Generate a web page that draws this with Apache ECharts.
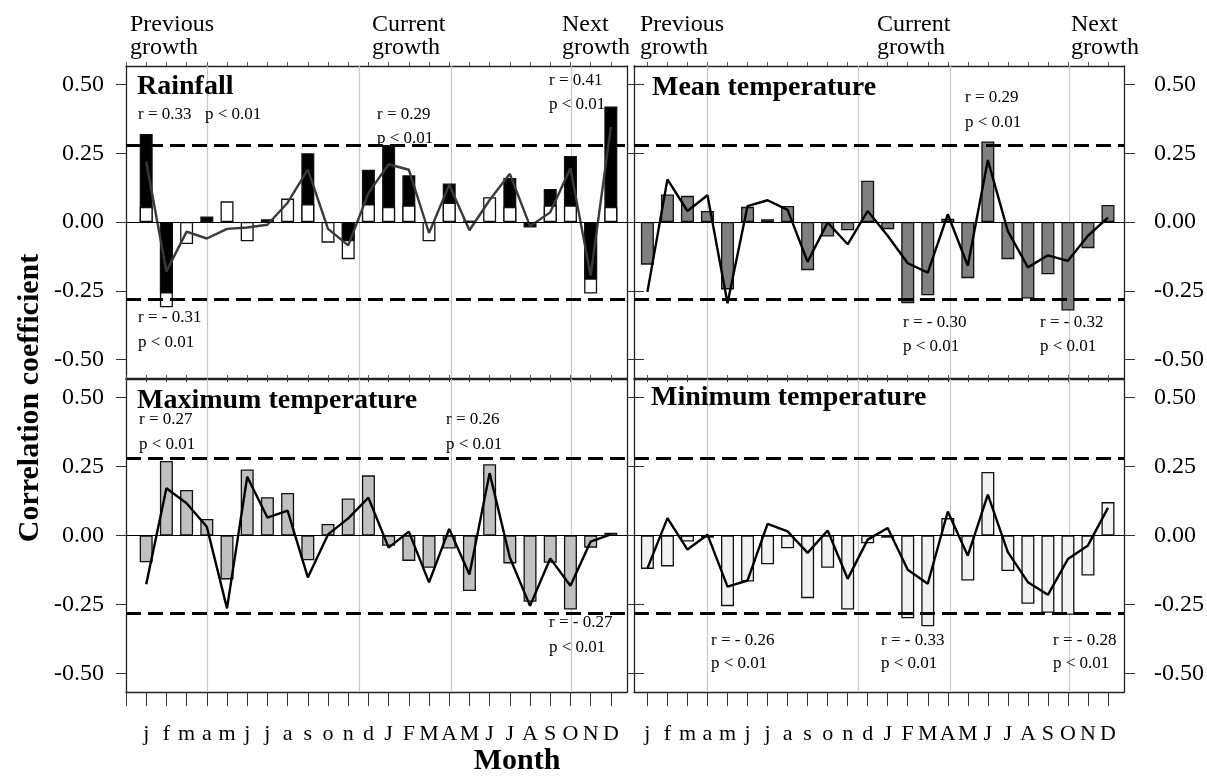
<!DOCTYPE html>
<html lang="en">
<head>
    <meta charset="UTF-8">
    <title>Correlation coefficient</title>
    <script src="https://cdn.jsdelivr.net/npm/echarts@6/dist/echarts.min.js"></script>
    <style>
        html, body { margin: 0; padding: 0; background: #fff; }
        #main { width: 1207px; height: 782px; }
    </style>
</head>
<body>
    <div id="main"></div>
    <script>
        // month labels, previous year in lower case, current year in upper case
        var months = ['j', 'f', 'm', 'a', 'm', 'j', 'j', 'a', 's', 'o', 'n', 'd',
                      'J', 'F', 'M', 'A', 'M', 'J', 'J', 'A', 'S', 'O', 'N', 'D'];
        var yTicks = [-0.5, -0.25, 0, 0.25, 0.5];
        var sigLevel = 0.28;
        var seasonLines = [4, 11.55, 16.1, 22.05];

        // Rainfall: black + white bars, grey line
        var rainBlack = [0.32, -0.26, 0, 0.02, 0, 0, 0.01, 0, 0.25, 0, -0.07, 0.19,
                         0.28, 0.17, 0, 0.14, 0.005, 0, 0.16, -0.02, 0.12, 0.24, -0.21, 0.42];
        var rainWhite = [0.055, -0.31, -0.08, 0, 0.075, -0.07, 0, 0.085, 0.065, -0.075, -0.135, 0.065,
                         0.055, 0.06, -0.07, 0.07, 0, 0.09, 0.055, 0, 0.06, 0.06, -0.26, 0.055];
        var rainLine = [0.22, -0.18, -0.035, -0.06, -0.025, -0.02, -0.01, 0.07, 0.19, -0.025, -0.085, 0.105,
                        0.21, 0.19, -0.04, 0.135, -0.03, 0.08, 0.175, -0.015, 0.035, 0.195, -0.195, 0.345];

        var meanBar = [-0.155, 0.10, 0.095, 0.04, -0.245, 0.055, 0.01, 0.058, -0.175, -0.053, -0.03, 0.15,
                       -0.026, -0.295, -0.266, 0.012, -0.204, 0.293, -0.135, -0.278, -0.19, -0.322, -0.095, 0.062];
        var meanLine = [-0.254, 0.155, 0.04, 0.097, -0.295, 0.058, 0.079, 0.044, -0.145, -0.002, -0.081, 0.04,
                        -0.05, -0.15, -0.184, 0.028, -0.159, 0.225, -0.033, -0.165, -0.121, -0.141, -0.05, 0.016];

        var maxBar = [-0.097, 0.27, 0.165, 0.06, -0.159, 0.239, 0.139, 0.154, -0.09, 0.042, 0.134, 0.218,
                      -0.037, -0.092, -0.117, -0.047, -0.201, 0.258, -0.101, -0.24, -0.099, -0.268, -0.044, 0.01];
        var maxLine = [-0.177, 0.171, 0.117, 0.032, -0.264, 0.213, 0.065, 0.09, -0.152, 0.004, 0.062, 0.137,
                       -0.044, 0.014, -0.17, 0.024, -0.141, 0.226, -0.08, -0.255, -0.083, -0.182, -0.022, 0.004];

        var minBar = [-0.121, -0.112, -0.022, -0.008, -0.256, -0.167, -0.104, -0.046, -0.227, -0.117, -0.268, -0.028,
                      -0.008, -0.30, -0.329, 0.063, -0.163, 0.23, -0.129, -0.247, -0.28, -0.287, -0.145, 0.121];
        var minLine = [-0.119, 0.063, -0.051, 0.003, -0.185, -0.163, 0.042, 0.015, -0.063, 0.018, -0.157, -0.015,
                       0.027, -0.124, -0.175, 0.087, -0.073, 0.148, -0.06, -0.169, -0.215, -0.085, -0.036, 0.1];

        var FONT = '"Liberation Serif", "Times New Roman", serif';

        function pts(arr, keep) {
            var out = [];
            arr.forEach(function (v, k) {
                if (v !== 0 && (!keep || keep(v))) out.push([k + 1, v]);
            });
            return out;
        }

        var xPos = months.map(function (m, k) { return k + 1; });

        // layout of the four panels
        var panels = [
            {left: 126, width: 501, top: 66, height: 312, xmin: 0, side: 'left', bottomLabels: false},
            {left: 634, width: 494, top: 66, height: 312, xmin: 0.33, side: 'right', bottomLabels: false},
            {left: 126, width: 501, top: 379, height: 313, xmin: 0, side: 'left', bottomLabels: true},
            {left: 634, width: 494, top: 379, height: 313, xmin: 0.33, side: 'right', bottomLabels: true}
        ];

        var grids = [], xAxes = [], yAxes = [], series = [];
        var axisCol = '#222';

        panels.forEach(function (p, i) {
            grids.push({left: p.left, top: p.top, width: p.width, height: p.height});
            var xt = p.xmin === 0 ? [0].concat(xPos) : xPos;
            xAxes.push({
                type: 'value', gridIndex: i, position: 'bottom', min: p.xmin, max: 24.8,
                axisLine: {show: true, onZero: false, lineStyle: {color: axisCol, width: 1.3}},
                axisTick: {show: true, customValues: xt, length: p.bottomLabels ? 14 : 4,
                           lineStyle: {color: '#333', width: 1}},
                axisLabel: {show: p.bottomLabels, customValues: xPos, margin: 31,
                            fontFamily: FONT, fontSize: 22, color: '#000',
                            formatter: function (v) { return months[Math.round(v) - 1] || ''; }},
                splitLine: {show: false}
            });
            xAxes.push({
                type: 'value', gridIndex: i, position: 'top', min: p.xmin, max: 24.8,
                axisLine: {show: true, onZero: false, lineStyle: {color: axisCol, width: 1.3}},
                axisTick: {show: true, customValues: xt, length: 4, lineStyle: {color: '#555'}},
                axisLabel: {show: false},
                splitLine: {show: false}
            });
            yAxes.push({
                type: 'value', gridIndex: i, position: 'left', min: -0.567, max: 0.567,
                axisLine: {show: true, onZero: false, lineStyle: {color: axisCol, width: 1.3}},
                axisTick: {show: true, customValues: yTicks, length: 10, inside: p.side === 'right',
                           lineStyle: {color: '#333'}},
                axisLabel: {show: p.side === 'left', customValues: yTicks, margin: 22,
                            fontFamily: FONT, fontSize: 24, color: '#000',
                            formatter: function (v) { return v.toFixed(2); }},
                splitLine: {show: false}
            });
            yAxes.push({
                type: 'value', gridIndex: i, position: 'right', min: -0.567, max: 0.567,
                axisLine: {show: true, onZero: false, lineStyle: {color: axisCol, width: 1.3}},
                axisTick: {show: true, customValues: yTicks, length: p.side === 'right' ? 11 : 8,
                           lineStyle: {color: '#333'}},
                axisLabel: {show: p.side === 'right', customValues: yTicks, margin: 30,
                            fontFamily: FONT, fontSize: 24, color: '#000',
                            formatter: function (v) { return v.toFixed(2); }},
                splitLine: {show: false}
            });
            // light grey season separators, behind the bars
            series.push({
                type: 'line', xAxisIndex: 2 * i, yAxisIndex: 2 * i, data: [], silent: true,
                markLine: {
                    z: 1, silent: true, symbol: 'none', label: {show: false},
                    lineStyle: {color: '#c8c8c8', type: 'solid', width: 1.2},
                    data: seasonLines.map(function (x) { return {xAxis: x}; })
                }
            });
        });

        function bar(i, data, fill, z) {
            return {
                type: 'bar', xAxisIndex: 2 * i, yAxisIndex: 2 * i, data: data,
                barWidth: 13, barGap: '-100%', z: z, silent: true,
                itemStyle: {color: fill, borderColor: '#111', borderWidth: 1.3}
            };
        }

        function line(i, data, col) {
            return {
                type: 'line', xAxisIndex: 2 * i, yAxisIndex: 2 * i, data: pts(data),
                showSymbol: false, symbol: 'none', z: 6, silent: true,
                lineStyle: {color: col, width: 2.4},
                markLine: {
                    z: 7, silent: true, symbol: 'none', label: {show: false},
                    data: [
                        {yAxis: 0, lineStyle: {color: '#000', type: 'solid', width: 1.2}},
                        {yAxis: sigLevel, lineStyle: {color: '#000', type: [15, 7], width: 2.8}},
                        {yAxis: -sigLevel, lineStyle: {color: '#000', type: [15, 7], width: 2.8}}
                    ]
                }
            };
        }

        // Rainfall
        series.push(bar(0, pts(rainWhite, function (v) { return v < 0; }), '#fff', 2));
        series.push(bar(0, pts(rainBlack), '#000', 3));
        series.push(bar(0, pts(rainWhite, function (v) { return v > 0; }), '#fff', 4));
        series.push(line(0, rainLine, '#3a3a3a'));
        // Mean temperature
        series.push(bar(1, pts(meanBar), '#808080', 3));
        series.push(line(1, meanLine, '#000'));
        // Maximum temperature
        series.push(bar(2, pts(maxBar), '#c0c0c0', 3));
        series.push(line(2, maxLine, '#000'));
        // Minimum temperature
        series.push(bar(3, pts(minBar), '#f2f2f2', 3));
        series.push(line(3, minLine, '#000'));

        function txt(x, y, s, size, bold) {
            return {
                type: 'text', x: x, y: y, silent: true, z: 100,
                style: {text: s, fill: '#000', textVerticalAlign: 'middle',
                        font: (bold ? 'bold ' : '') + size + 'px ' + FONT}
            };
        }

        var notes = [
            // panel titles
            txt(137, 87, 'Rainfall', 28, true),
            txt(652, 88, 'Mean temperature', 28, true),
            txt(137, 401, 'Maximum temperature', 28, true),
            txt(651, 398, 'Minimum temperature', 28, true),
            // growth periods
            txt(130, 25, 'Previous', 24), txt(130, 48, 'growth', 24),
            txt(372, 25, 'Current', 24), txt(372, 48, 'growth', 24),
            txt(562, 25, 'Next', 24), txt(562, 48, 'growth', 24),
            txt(640, 25, 'Previous', 24), txt(640, 48, 'growth', 24),
            txt(877, 25, 'Current', 24), txt(877, 48, 'growth', 24),
            txt(1071, 25, 'Next', 24), txt(1071, 48, 'growth', 24),
            // rainfall statistics
            txt(138, 115, 'r = 0.33', 17), txt(205, 115, 'p < 0.01', 17),
            txt(138, 318, 'r = - 0.31', 17), txt(138, 343, 'p < 0.01', 17),
            txt(377, 115, 'r = 0.29', 17), txt(377, 139, 'p < 0.01', 17),
            txt(549, 81, 'r = 0.41', 17), txt(549, 105, 'p < 0.01', 17),
            // mean temperature statistics
            txt(965, 98, 'r = 0.29', 17), txt(965, 123, 'p < 0.01', 17),
            txt(903, 323, 'r = - 0.30', 17), txt(903, 347, 'p < 0.01', 17),
            txt(1040, 323, 'r = - 0.32', 17), txt(1040, 347, 'p < 0.01', 17),
            // maximum temperature statistics
            txt(139, 420, 'r = 0.27', 17), txt(139, 445, 'p < 0.01', 17),
            txt(446, 420, 'r = 0.26', 17), txt(446, 445, 'p < 0.01', 17),
            txt(549, 623, 'r = - 0.27', 17), txt(549, 648, 'p < 0.01', 17),
            // minimum temperature statistics
            txt(711, 641, 'r = - 0.26', 17), txt(711, 664, 'p < 0.01', 17),
            txt(881, 641, 'r = - 0.33', 17), txt(881, 664, 'p < 0.01', 17),
            txt(1053, 641, 'r = - 0.28', 17), txt(1053, 664, 'p < 0.01', 17),
            // axis titles
            {type: 'text', x: 517, y: 761, silent: true,
             style: {text: 'Month', fill: '#000', textAlign: 'center', textVerticalAlign: 'middle',
                     font: 'bold 30px ' + FONT}},
            {type: 'text', x: 30, y: 398, rotation: Math.PI / 2, silent: true,
             style: {text: 'Correlation coefficient', fill: '#000', textAlign: 'center',
                     textVerticalAlign: 'middle', font: 'bold 30px ' + FONT}}
        ];

        var myChart = echarts.init(document.getElementById('main'), null, {renderer: 'canvas'});
        myChart.setOption({
            animation: false,
            backgroundColor: '#fff',
            grid: grids,
            xAxis: xAxes,
            yAxis: yAxes,
            series: series,
            graphic: notes
        });
    </script>
</body>
</html>
